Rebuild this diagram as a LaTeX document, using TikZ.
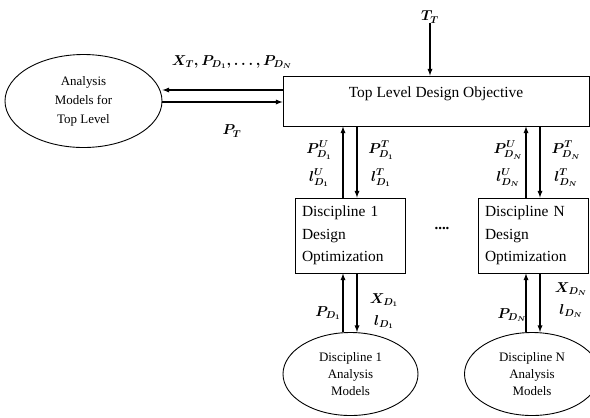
\documentclass[tikz,border=0pt]{standalone}
\usepackage{amsmath}
\usepackage{fontspec}
\setmainfont{Liberation Serif}
\usetikzlibrary{arrows, calc, shapes.geometric}

\begin{document}
\begin{tikzpicture}[
        x=1bp, y=-1bp,
        flow/.style={line width=1.3pt, ->, >=latex},
        stage/.style={draw, line width=0.9pt, inner sep=0pt},
        optbox/.style={stage, minimum width=110bp, minimum height=75bp,
            text width=96bp, align=left, font=\fontsize{15.5}{22.5}\selectfont},
        model/.style={draw, ellipse, line width=0.9pt, inner sep=0pt, align=center,
            font=\fontsize{13}{17.5}\selectfont},
        var/.style={inner sep=0pt, font=\fontsize{14}{16}\selectfont}
    ]
    \useasboundingbox (0,0) rectangle (590,417);

    % top level
    \node[stage, minimum width=306bp, minimum height=50bp, text height=11bp, text depth=19bp,
        font=\fontsize{15.5}{18}\selectfont] (top) at (436,101) {Top Level Design Objective};
    \node[model, minimum width=157bp, minimum height=93bp,
        font=\fontsize{13}{19}\selectfont] (topmod) at (83.5,101) {Analysis\\Models for\\Top Level};
    \node[var] (tt) at (430,17) {$\boldsymbol{T_T}$};

    % discipline level
    \node[optbox] (d1) at (350,235.5) {Discipline 1\\Design\\Optimization};
    \node[optbox] (dn) at (533,235.5) {Discipline N\\Design\\Optimization};
    \node[font=\fontsize{15}{18}\selectfont\bfseries] (dots) at (442,228) {....};

    \node[model, minimum width=135bp, minimum height=83bp] (m1) at (350.5,374) {Discipline 1\\Analysis\\Models};
    \node[model, minimum width=135bp, minimum height=83bp] (mn) at (532,374) {Discipline N\\Analysis\\Models};

    % top level links
    \draw[flow] (tt) -- (tt |- top.north);
    \draw[flow] ([yshift=11bp]top.west) -- ([yshift=11bp]top.west -| topmod.east);
    \draw[flow] ([yshift=-1bp]topmod.east) -- ([yshift=-1bp]topmod.east -| top.west);
    \node[var] (xt) at (232,62) {$\boldsymbol{X_T, P_{D_1}, \ldots, P_{D_N}}$};
    \node[var] (pt) at (232,131) {$\boldsymbol{P_T}$};

    % between top level and disciplines
    \foreach \d in {d1,dn} {
        \draw[flow] ([xshift=-7bp]\d.north) -- ([xshift=-7bp]\d.north |- top.south);
        \draw[flow] ([xshift=7bp]\d.north |- top.south) -- ([xshift=7bp]\d.north);
    }
    \node[var, align=center] (u1) at (319,164) {$\boldsymbol{P^{U}_{D_1}}$\\[9bp]$\boldsymbol{l^{U}_{D_1}}$};
    \node[var, align=center] (t1) at (381,164) {$\boldsymbol{P^{T}_{D_1}}$\\[9bp]$\boldsymbol{l^{T}_{D_1}}$};
    \node[var, align=center] (un) at (508,164) {$\boldsymbol{P^{U}_{D_N}}$\\[9bp]$\boldsymbol{l^{U}_{D_N}}$};
    \node[var, align=center] (tn) at (566,164) {$\boldsymbol{P^{T}_{D_N}}$\\[9bp]$\boldsymbol{l^{T}_{D_N}}$};

    % between disciplines and their models
    \draw[flow] ([xshift=-7bp]d1.south |- m1.north) -- ([xshift=-7bp]d1.south);
    \draw[flow] ([xshift=7bp]d1.south) -- ([xshift=7bp]d1.south |- m1.north);
    \draw[flow] ([xshift=-7bp]dn.south |- mn.north) -- ([xshift=-7bp]dn.south);
    \draw[flow] ([xshift=7bp]dn.south) -- ([xshift=7bp]dn.south |- mn.north);
    \node[var] (p1) at (328,313) {$\boldsymbol{P_{D_1}}$};
    \node[var, align=center] (x1) at (384,311) {$\boldsymbol{X_{D_1}}$\\[6bp]$\boldsymbol{l_{D_1}}$};
    \node[var] (pn) at (512,315) {$\boldsymbol{P_{D_N}}$};
    \node[var, align=center] (xn) at (571,300) {$\boldsymbol{X_{D_N}}$\\[6bp]$\boldsymbol{l_{D_N}}$};

\end{tikzpicture}
\end{document}
